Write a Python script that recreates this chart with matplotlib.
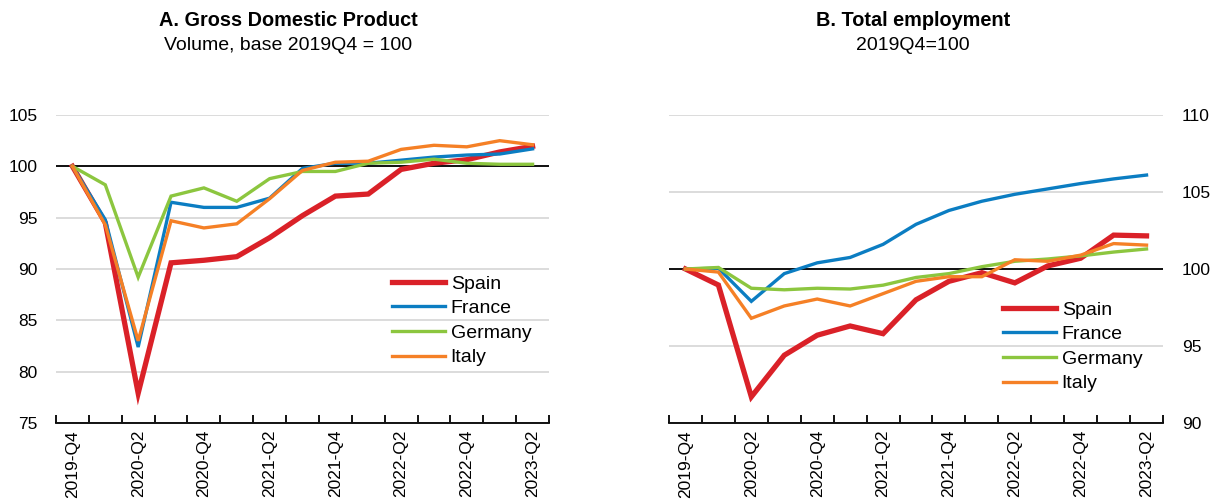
import matplotlib
matplotlib.use("Agg")
import matplotlib.pyplot as plt
import numpy as np

plt.rcParams['font.family'] = ['Liberation Sans', 'DejaVu Sans']

quarters = ["2019-Q4", "2020-Q1", "2020-Q2", "2020-Q3", "2020-Q4", "2021-Q1", "2021-Q2",
            "2021-Q3", "2021-Q4", "2022-Q1", "2022-Q2", "2022-Q3", "2022-Q4", "2023-Q1", "2023-Q2"]

gdp_spain   = [100, 94.5, 77.9, 90.6, 90.85, 91.2, 93.05, 95.2, 97.1, 97.3, 99.7, 100.3, 100.65, 101.4, 101.95]
gdp_france  = [100, 94.8, 82.4, 96.5, 96.0, 96.0, 96.9, 99.8, 100.3, 100.3, 100.6, 100.9, 101.1, 101.2, 101.7]
gdp_germany = [100, 98.2, 89.2, 97.1, 97.9, 96.6, 98.8, 99.5, 99.5, 100.3, 100.4, 100.7, 100.3, 100.2, 100.2]
gdp_italy   = [100, 94.3, 83.0, 94.7, 94.0, 94.4, 96.85, 99.6, 100.4, 100.5, 101.65, 102.05, 101.9, 102.5, 102.1]

emp_spain   = [100, 98.96, 91.7, 94.4, 95.7, 96.3, 95.8, 98.0, 99.2, 99.76, 99.1, 100.2, 100.7, 102.2, 102.15]
emp_france  = [100, 100.05, 97.9, 99.7, 100.4, 100.75, 101.6, 102.9, 103.8, 104.4, 104.85, 105.2, 105.55, 105.85, 106.1]
emp_germany = [100, 100.1, 98.75, 98.65, 98.75, 98.7, 98.95, 99.45, 99.7, 100.15, 100.5, 100.65, 100.85, 101.1, 101.3]
emp_italy   = [100, 99.8, 96.8, 97.6, 98.05, 97.6, 98.4, 99.2, 99.5, 99.5, 100.6, 100.5, 100.9, 101.65, 101.55]

countries = ["Spain", "France", "Germany", "Italy"]
colors = ["#DA2128", "#0B7DC2", "#8CC63F", "#F58026"]
widths = [3.8, 2.4, 2.4, 2.4]

W, H = 1216, 500
fig = plt.figure(figsize=(W / 100, H / 100), dpi=100)

def px_axes(l, r, t, b):
    return fig.add_axes([l / W, 1 - b / H, (r - l) / W, (b - t) / H])

axA = px_axes(56, 549, 115, 423)
axB = px_axes(669, 1163, 115, 423)

x = np.arange(len(quarters))

def style(ax, ylim, yticks, right=False):
    ax.set_xlim(-0.5, len(quarters) - 0.5)
    ax.set_ylim(*ylim)
    ax.set_yticks(yticks)
    ax.grid(axis='y', color='#D9D9D9', linewidth=1.3, zorder=0)
    ax.set_axisbelow(True)
    for s in ['top', 'left', 'right']:
        ax.spines[s].set_visible(False)
    ax.spines['bottom'].set_color('black')
    ax.spines['bottom'].set_linewidth(1.3)
    ax.axhline(100, color='black', linewidth=1.3, zorder=2)
    ax.set_xticks(x[::2])
    ax.set_xticklabels(quarters[::2], rotation=90, fontsize=12.5)
    ax.set_xticks(np.arange(-0.5, len(quarters)), minor=True)
    ax.tick_params(axis='x', which='major', length=0, pad=5)
    ax.tick_params(axis='x', which='minor', direction='in', length=6, width=1.3, color='black')
    if right:
        ax.yaxis.tick_right()
    ax.tick_params(axis='y', length=0, labelsize=12.5, pad=13.5)

def plot_panel(ax, series):
    for vals, name, c, lw in zip(series, countries, colors, widths):
        ax.plot(x, vals, color=c, linewidth=lw, label=name, zorder=3,
                solid_joinstyle='miter')

def add_legend(ax, left_px, top_px, ax_l, ax_w):
    ax.legend(loc='upper left', bbox_to_anchor=((left_px - ax_l) / ax_w, (423 - top_px) / 308),
              frameon=False, fontsize=14, handlelength=2.75, handletextpad=0.27,
              labelspacing=0.36, borderaxespad=0, borderpad=0)

plot_panel(axA, [gdp_spain, gdp_france, gdp_germany, gdp_italy])
style(axA, (75, 105), [75, 80, 85, 90, 95, 100, 105])
add_legend(axA, 392, 275, 56, 493)

plot_panel(axB, [emp_spain, emp_france, emp_germany, emp_italy])
style(axB, (90, 110), [90, 95, 100, 105, 110], right=True)
add_legend(axB, 1003, 301, 669, 494)

fig.text(288 / W, 1 - 20 / H, "A. Gross Domestic Product", ha='center', va='center',
         fontsize=14.3, fontweight='bold')
fig.text(288 / W, 1 - 45 / H, "Volume, base 2019Q4 = 100", ha='center', va='center',
         fontsize=14)
fig.text(913 / W, 1 - 20 / H, "B. Total employment", ha='center', va='center',
         fontsize=14.3, fontweight='bold')
fig.text(913 / W, 1 - 45 / H, "2019Q4=100", ha='center', va='center', fontsize=14)

fig.savefig("out.png", dpi=100)
